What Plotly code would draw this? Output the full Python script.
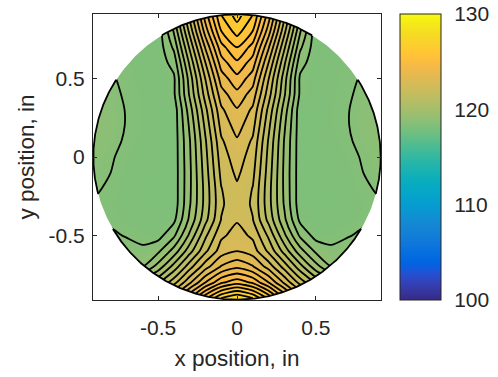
import numpy as np
import plotly.graph_objects as go

# Measurement grid (inches)
x_pos = [-0.9, -0.8, -0.7, -0.6, -0.5, -0.4, -0.3, -0.2, -0.1, 0.0,
         0.1, 0.2, 0.3, 0.4, 0.5, 0.6, 0.7, 0.8, 0.9]
y_pos = [-0.9, -0.8, -0.7, -0.6, -0.5, -0.4, -0.3, -0.2, -0.1, 0.0,
         0.1, 0.2, 0.3, 0.4, 0.5, 0.6, 0.7, 0.8, 0.9]

# Map values for x = 0.0 ... 0.9 on each row (map is mirror-symmetric in x)
half_rows = [
    [127.5, 127.0, 125.9, 124.5, 123.2, 122.0, 121.3, 120.8, 120.5, 120.3],     # y = -0.9
    [125.3, 124.9, 124.0, 122.9, 121.8, 120.9, 120.3, 120.0, 120.0, 120.0],     # y = -0.8
    [123.9, 123.55, 122.8, 121.8, 120.7, 119.7, 119.0, 119.1, 119.4, 119.7],    # y = -0.7
    [123.0, 122.75, 121.9, 120.8, 119.7, 118.9, 118.6, 118.8, 119.1, 119.4],    # y = -0.6
    [122.7, 122.4, 121.4, 120.1, 118.9, 118.3, 118.35, 118.45, 118.62, 118.8],  # y = -0.5
    [122.45, 122.02, 120.85, 119.61, 118.38, 118.2, 118.22, 118.28, 118.38, 118.45],
    [122.35, 121.92, 120.69, 119.44, 118.2, 118.2, 118.2, 118.25, 118.33, 118.45],
    [122.42, 121.98, 120.69, 119.4, 118.2, 118.2, 118.2, 118.25, 118.4, 118.58],
    [122.6, 122.13, 120.76, 119.39, 118.2, 118.2, 118.22, 118.28, 118.5, 118.66],
    [122.75, 122.26, 120.84, 119.42, 118.2, 118.2, 118.25, 118.33, 118.56, 118.72],  # y = 0
    [122.93, 122.42, 120.94, 119.46, 118.2, 118.2, 118.28, 118.42, 118.67, 118.8],
    [123.2, 122.67, 121.13, 119.58, 118.2, 118.2, 118.32, 118.47, 118.74, 118.86],
    [123.45, 122.9, 121.36, 119.77, 118.2, 118.2, 118.32, 118.47, 118.72, 118.82],
    [123.85, 123.28, 121.72, 120.07, 118.41, 118.2, 118.3, 118.42, 118.65, 118.75],
    [124.35, 123.73, 122.02, 120.22, 118.41, 118.2, 118.28, 118.4, 118.55, 118.6],
    [124.9, 124.25, 122.49, 120.59, 118.69, 118.2, 118.25, 118.35, 118.45, 118.5],
    [125.5, 124.81, 123.06, 121.08, 119.1, 118.2, 118.22, 118.3, 118.4, 118.45],
    [126.2, 125.48, 123.72, 121.63, 119.54, 118.2, 118.2, 118.25, 118.3, 118.35],
    [126.7, 125.97, 124.24, 122.12, 119.99, 118.2, 118.2, 118.2, 118.25, 118.3],  # y = 0.9
]

wafer_radius = 0.91
line_levels = dict(start=118.5, end=128.0, size=0.5)
color_range = (100, 130)
cbar_ticks = [100, 110, 120, 130]
axis_ticks = [-0.5, 0, 0.5]
axis_ticktext = ["-0.5", "0", "0.5"]

# MATLAB parula (64 entries)
parula = [
    (0.2081, 0.1663, 0.5292), (0.2116, 0.1898, 0.5777), (0.2123, 0.2138, 0.6270),
    (0.2081, 0.2386, 0.6771), (0.1959, 0.2645, 0.7279), (0.1707, 0.2919, 0.7792),
    (0.1253, 0.3242, 0.8303), (0.0591, 0.3598, 0.8683), (0.0117, 0.3875, 0.8820),
    (0.0060, 0.4086, 0.8828), (0.0165, 0.4266, 0.8786), (0.0329, 0.4430, 0.8720),
    (0.0498, 0.4586, 0.8641), (0.0629, 0.4737, 0.8554), (0.0723, 0.4887, 0.8467),
    (0.0779, 0.5040, 0.8384), (0.0793, 0.5200, 0.8312), (0.0749, 0.5375, 0.8263),
    (0.0641, 0.5570, 0.8240), (0.0488, 0.5772, 0.8228), (0.0343, 0.5966, 0.8199),
    (0.0265, 0.6137, 0.8135), (0.0239, 0.6287, 0.8038), (0.0231, 0.6418, 0.7913),
    (0.0228, 0.6535, 0.7768), (0.0267, 0.6642, 0.7607), (0.0384, 0.6743, 0.7436),
    (0.0590, 0.6838, 0.7254), (0.0843, 0.6928, 0.7062), (0.1133, 0.7015, 0.6859),
    (0.1453, 0.7098, 0.6646), (0.1801, 0.7177, 0.6424), (0.2178, 0.7250, 0.6193),
    (0.2586, 0.7317, 0.5954), (0.3022, 0.7376, 0.5712), (0.3482, 0.7424, 0.5473),
    (0.3953, 0.7459, 0.5244), (0.4420, 0.7481, 0.5033), (0.4871, 0.7491, 0.4840),
    (0.5300, 0.7491, 0.4661), (0.5709, 0.7485, 0.4494), (0.6099, 0.7473, 0.4337),
    (0.6473, 0.7456, 0.4188), (0.6834, 0.7435, 0.4044), (0.7184, 0.7411, 0.3905),
    (0.7525, 0.7384, 0.3768), (0.7858, 0.7356, 0.3633), (0.8185, 0.7327, 0.3498),
    (0.8507, 0.7299, 0.3360), (0.8824, 0.7274, 0.3217), (0.9139, 0.7258, 0.3063),
    (0.9450, 0.7261, 0.2886), (0.9739, 0.7314, 0.2666), (0.9938, 0.7455, 0.2403),
    (0.9990, 0.7653, 0.2164), (0.9955, 0.7861, 0.1967), (0.9880, 0.8066, 0.1794),
    (0.9789, 0.8271, 0.1633), (0.9697, 0.8481, 0.1475), (0.9626, 0.8705, 0.1309),
    (0.9589, 0.8949, 0.1132), (0.9598, 0.9218, 0.0948), (0.9661, 0.9514, 0.0755),
    (0.9763, 0.9831, 0.0538),
]
n = len(parula)
colorscale = [[i / (n - 1), "rgb(%d,%d,%d)" % tuple(round(c * 255) for c in rgb)]
              for i, rgb in enumerate(parula)]

# Full grid: mirror each half row about x = 0
Z = np.array([row[:0:-1] + row for row in half_rows])
xg = np.array(x_pos)
yg = np.array(y_pos)


def bilinear(xq, yq):
    ix = np.clip(np.searchsorted(xg, xq) - 1, 0, len(xg) - 2)
    iy = np.clip(np.searchsorted(yg, yq) - 1, 0, len(yg) - 2)
    tx = (xq - xg[ix]) / (xg[ix + 1] - xg[ix])
    ty = (yq - yg[iy]) / (yg[iy + 1] - yg[iy])
    return ((1 - tx) * (1 - ty) * Z[iy, ix] + tx * (1 - ty) * Z[iy, ix + 1]
            + (1 - tx) * ty * Z[iy + 1, ix] + tx * ty * Z[iy + 1, ix + 1])


text_color = "#262626"
font_family = "Liberation Sans, Arial, sans-serif"
tick_size = 21
title_size = 22.5

fig = go.Figure()

# Smooth colour fill of the map
fig.add_trace(go.Heatmap(
    x=x_pos, y=y_pos, z=Z, zsmooth="best",
    colorscale=colorscale, zmin=color_range[0], zmax=color_range[1],
    hoverinfo="skip",
    colorbar=dict(
        x=1.066, xanchor="left", y=0.5, yanchor="middle",
        len=1.0, lenmode="fraction", thickness=41,
        outlinewidth=1, outlinecolor=text_color,
        tickvals=cbar_ticks, ticks="outside", ticklen=9, tickcolor="white",
        tickfont=dict(size=tick_size, color=text_color, family=font_family),
        xpad=0, ypad=0,
    ),
))

# Black iso-lines
fig.add_trace(go.Contour(
    x=x_pos, y=y_pos, z=Z, autocontour=False,
    contours=dict(coloring="none", **line_levels),
    line=dict(color="black", width=1.8, smoothing=0.6),
    showscale=False, hoverinfo="skip",
))

# White surround outside the wafer edge
theta = np.linspace(0, 2 * np.pi, 361)
cx = wafer_radius * np.cos(theta)
cy = wafer_radius * np.sin(theta)
big = 1.5
mask_x = [-big, big, big, -big, -big] + list(cx[::-1]) + [-big]
mask_y = [-big, -big, big, big, -big] + list(cy[::-1]) + [-big]
fig.add_trace(go.Scatter(
    x=mask_x, y=mask_y, mode="lines", fill="toself",
    fillcolor="white", line=dict(width=0, color="white"),
    hoverinfo="skip", showlegend=False,
))

# Edge outline where the rim lies inside the lowest drawn level
theta_e = np.linspace(0, 2 * np.pi, 1441)
ex = wafer_radius * np.cos(theta_e)
ey = wafer_radius * np.sin(theta_e)
edge_val = bilinear(ex, ey)
on = edge_val >= line_levels["start"]
edge_x = np.where(on, ex, np.nan)
edge_y = np.where(on, ey, np.nan)
fig.add_trace(go.Scatter(
    x=edge_x, y=edge_y, mode="lines", connectgaps=False,
    line=dict(color="black", width=1.8),
    hoverinfo="skip", showlegend=False,
))

axis_common = dict(
    showgrid=False, zeroline=False, showline=True, linecolor=text_color,
    linewidth=1, mirror="ticks", ticks="inside", ticklen=4,
    tickcolor=text_color, tickvals=axis_ticks, ticktext=axis_ticktext,
    tickfont=dict(size=tick_size, color=text_color, family=font_family),
)

fig.update_layout(
    width=498, height=377,
    margin=dict(l=93, r=117, t=14, b=77, autoexpand=False),
    paper_bgcolor="white", plot_bgcolor="white",
    showlegend=False,
    xaxis=dict(range=[-0.912, 0.912], ticklabelstandoff=9,
               title=dict(text="x position, in", standoff=12,
                          font=dict(size=title_size, color=text_color, family=font_family)),
               **axis_common),
    yaxis=dict(range=[-0.912, 0.912], ticklabelstandoff=3,
               title=dict(text="y position, in", standoff=7,
                          font=dict(size=title_size, color=text_color, family=font_family)),
               **axis_common),
)

fig.write_html("out.html")
